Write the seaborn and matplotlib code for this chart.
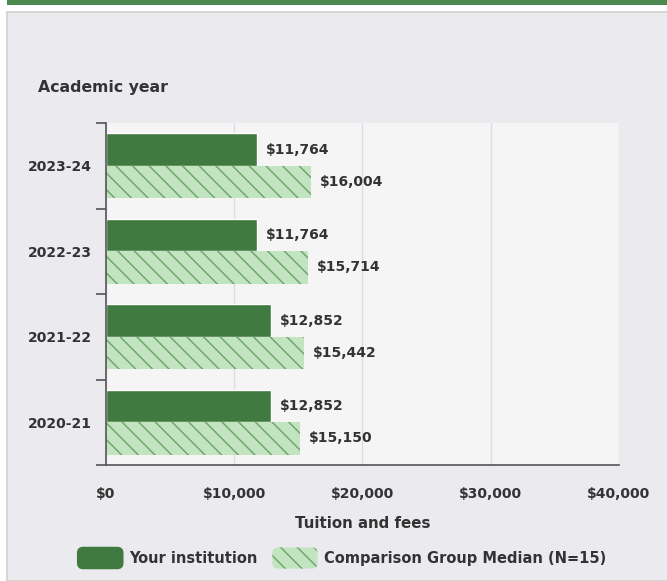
import matplotlib
matplotlib.use("Agg")
import matplotlib.pyplot as plt
import matplotlib.patches as mpatches
from matplotlib.legend_handler import HandlerPatch
import pandas as pd
import seaborn as sns

# Data
years = ["2023-24", "2022-23", "2021-22", "2020-21"]
your_inst = [11764, 11764, 12852, 12852]
comparison = [16004, 15714, 15442, 15150]
series_names = ["Your institution", "Comparison Group Median (N=15)"]
x_ticks = [0, 10000, 20000, 30000, 40000]

dark_green = "#417a40"
light_green = "#c3e4c1"
hatch_green = "#6fa86c"
text_col = "#333333"
hatch_pat = "\\\\"

df = pd.DataFrame({
    "year": years * 2,
    "value": your_inst + comparison,
    "series": [series_names[0]] * len(years) + [series_names[1]] * len(years),
})

sns.set_style("white")
plt.rcParams["font.family"] = ["DejaVu Sans"]
plt.rcParams["font.weight"] = "bold"
plt.rcParams["hatch.linewidth"] = 1.1

fig = plt.figure(figsize=(6.67, 5.81), dpi=100)
fig.patch.set_facecolor("white")

# panel background + top green rule
fig.patches.append(mpatches.Rectangle((7 / 667, 0), 1, 1 - 12 / 581, transform=fig.transFigure,
                                      facecolor="#ebebef", edgecolor="#d0d0d0", linewidth=1.2, zorder=-5))
fig.patches.append(mpatches.Rectangle((7 / 667, 1 - 5 / 581), 1, 5 / 581, transform=fig.transFigure,
                                      facecolor="#4a8a4f", edgecolor="none", zorder=-5))

ax = fig.add_axes([106 / 667, 1 - 465 / 581, (619 - 106) / 667, (465 - 123) / 581])
sns.barplot(data=df, y="year", x="value", hue="series", order=years, hue_order=series_names,
            palette=[dark_green, light_green], width=0.76, orient="h", ax=ax,
            legend=False, saturation=1)

for bar in ax.containers[1]:
    bar.set_hatch(hatch_pat)
    bar.set_edgecolor(hatch_green)
    bar.set_linewidth(0)

for cont in ax.containers:
    ax.bar_label(cont, labels=["${:,.0f}".format(v.get_width()) for v in cont],
                 padding=6.5, fontsize=10, fontweight="bold", color=text_col)

ax.set_facecolor("#f5f5f5")
ax.set_xlim(0, 40000)
ax.set_ylim(3.5, -0.5)
ax.set_xticks(x_ticks)
ax.set_xticklabels(["${:,}".format(t) for t in x_ticks], fontsize=10, fontweight="bold", color=text_col)
ax.tick_params(axis="x", length=0, pad=16)
ax.grid(axis="x", color="#dcdce6", linewidth=1)
ax.set_axisbelow(True)

ax.set_yticks(range(len(years)))
ax.set_yticklabels(years, fontsize=10, fontweight="bold", color=text_col)
ax.tick_params(axis="y", which="major", left=False, length=0, pad=10)
ax.set_yticks([i - 0.5 for i in range(len(years) + 1)], minor=True)
ax.tick_params(axis="y", which="minor", left=True, length=7, width=1.2, color="#555555")

for s in ["top", "right"]:
    ax.spines[s].set_visible(False)
for s in ["left", "bottom"]:
    ax.spines[s].set_color("#555555")
    ax.spines[s].set_linewidth(1.2)

ax.set_xlabel("Tuition and fees", fontsize=10.8, fontweight="bold", color=text_col, labelpad=11)
ax.set_ylabel("")
fig.text(38 / 667, 1 - 87 / 581, "Academic year", fontsize=11.3, fontweight="bold",
         color=text_col, va="center", ha="left")


def rounded_patch(legend, orig_handle, xdescent, ydescent, width, height, fontsize):
    return mpatches.FancyBboxPatch((-xdescent + 2, -ydescent + 2), width - 4, height - 4,
                                   boxstyle="round,pad=2,rounding_size=4")


handles = [
    mpatches.Patch(facecolor=dark_green, edgecolor=dark_green, label=series_names[0]),
    mpatches.Patch(facecolor=light_green, edgecolor=hatch_green, linewidth=0, hatch=hatch_pat,
                   label=series_names[1]),
]
leg = fig.legend(handles=handles, loc="center", bbox_to_anchor=(342 / 667, 1 - 558 / 581), ncol=2,
                 frameon=False, fontsize=10.5, handlelength=3.1, handleheight=1.85,
                 columnspacing=1.0, handletextpad=0.45,
                 handler_map={mpatches.Patch: HandlerPatch(patch_func=rounded_patch)})
for t in leg.get_texts():
    t.set_color(text_col)

fig.savefig("out.png", dpi=100, facecolor=fig.get_facecolor())
